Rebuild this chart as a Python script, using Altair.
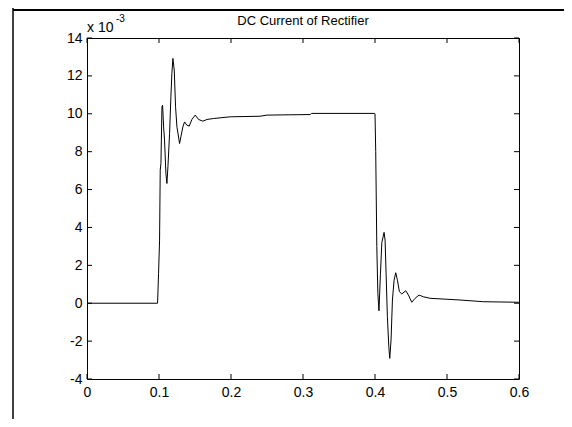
import altair as alt
import pandas as pd

# time (s) and current (x 10^-3 A)
t = [0, 0.0980, 0.0994, 0.1008, 0.1017, 0.1027, 0.1041, 0.1050, 0.1064, 0.1077, 0.1096,
     0.1110, 0.1124, 0.1147, 0.1165, 0.1179, 0.1193, 0.1212, 0.1230, 0.1249, 0.1286,
     0.1304, 0.1332, 0.1355, 0.1387, 0.1420, 0.1457, 0.1503, 0.1549, 0.1610, 0.1665,
     0.1758, 0.1989, 0.2405, 0.2500, 0.3100, 0.3120, 0.3990,
     0.4000, 0.4010, 0.4025, 0.4040, 0.4055, 0.4075, 0.4095, 0.4126, 0.4140, 0.4154,
     0.4172, 0.4192, 0.4205, 0.4223, 0.4242, 0.4265, 0.4288, 0.4311, 0.4339, 0.4372,
     0.4427, 0.4464, 0.4510, 0.4557, 0.4612, 0.4672, 0.4765, 0.4997, 0.5181, 0.5505, 0.6]
i = [0, 0, 1.58, 3.33, 7.03, 7.38, 10.37, 10.45, 9.31, 8.61, 6.85,
     6.32, 7.20, 8.96, 10.89, 12.12, 12.92, 12.30, 10.37, 9.31, 8.43,
     8.78, 9.31, 9.57, 9.40, 9.35, 9.70, 9.93, 9.70, 9.61, 9.70,
     9.75, 9.84, 9.87, 9.93, 9.96, 10.02, 10.02,
     10.0, 8.0, 3.0, 0.5, -0.4, 1.5, 3.2, 3.74, 3.33, 1.58,
     -0.71, -2.29, -2.91, -1.94, 0.17, 1.22, 1.61, 1.22, 0.61, 0.49,
     0.66, 0.43, 0.05, 0.26, 0.43, 0.34, 0.26, 0.21, 0.17, 0.08, 0.05]

x_ticks = [0, 0.1, 0.2, 0.3, 0.4, 0.5, 0.6]
y_ticks = [-4, -2, 0, 2, 4, 6, 8, 10, 12, 14]

title_text = "DC Current of Rectifier"
exp_base = "x 10"
exp_power = "-3"

W, H = 432, 341
PL, PT, PR, PB = 79, 30, 45, 40
FONT = "Liberation Sans"

df = pd.DataFrame({"t": t, "i": i})
xt = pd.DataFrame({"t": x_ticks})
yt = pd.DataFrame({"i": y_ticks})

xscale = alt.Scale(domain=[0, 0.6], nice=False, zero=False)
yscale = alt.Scale(domain=[-4, 14], nice=False, zero=False)

xaxis = alt.Axis(values=x_ticks, title=None, ticks=False, domain=False, grid=False,
                 labelExpr="toString(datum.value)", labelPadding=6,
                 labelOverlap=False, labelFlush=False,
                 labelFont=FONT, labelFontSize=14, labelColor="black")
yaxis = alt.Axis(values=y_ticks, title=None, ticks=False, domain=False, grid=False,
                 labelExpr="toString(datum.value)", labelPadding=5,
                 labelOverlap=False, labelFlush=False,
                 labelFont=FONT, labelFontSize=14, labelColor="black")

X = alt.X("t:Q", scale=xscale, axis=xaxis)
Y = alt.Y("i:Q", scale=yscale, axis=yaxis)

line = alt.Chart(df).mark_line(color="black", strokeWidth=1).encode(x=X, y=Y)

tick_len = 5
top_ticks = alt.Chart(xt).mark_rule(color="black").encode(
    x=X, y=alt.value(0), y2=alt.value(tick_len))
bot_ticks = alt.Chart(xt).mark_rule(color="black").encode(
    x=X, y=alt.value(H - tick_len), y2=alt.value(H))
left_ticks = alt.Chart(yt).mark_rule(color="black").encode(
    y=Y, x=alt.value(0), x2=alt.value(tick_len))
right_ticks = alt.Chart(yt).mark_rule(color="black").encode(
    y=Y, x=alt.value(W - tick_len), x2=alt.value(W))

one = pd.DataFrame({"a": [title_text], "b": [exp_base], "c": [exp_power]})
title = alt.Chart(one).mark_text(font=FONT, fontSize=13, align="center", baseline="alphabetic",
                                 color="black").encode(
    text="a:N", x=alt.value(W / 2), y=alt.value(-13))
base = alt.Chart(one).mark_text(font=FONT, fontSize=14, align="left", baseline="alphabetic",
                                color="black").encode(
    text="b:N", x=alt.value(0), y=alt.value(-6))
power = alt.Chart(one).mark_text(font=FONT, fontSize=10, align="left", baseline="alphabetic",
                                 color="black").encode(
    text="c:N", x=alt.value(29), y=alt.value(-16))

frame_left = alt.Chart(one).mark_rule(color="black", strokeWidth=1.5).encode(
    x=alt.value(-74), y=alt.value(-PT), y2=alt.value(H + PB))
frame_top = alt.Chart(one).mark_rule(color="black", strokeWidth=2).encode(
    x=alt.value(-74), x2=alt.value(W + PR), y=alt.value(-28))

chart = alt.layer(
    line, top_ticks, bot_ticks, left_ticks, right_ticks, title, base, power, frame_left, frame_top
).properties(
    width=W, height=H,
    padding={"left": PL, "top": PT, "right": PR, "bottom": PB},
    autosize=alt.AutoSizeParams(type="none"),
    background="white",
).configure_view(stroke="black", strokeWidth=1).configure_axis(labelOverlap=False)

chart.save("out.html", embed_options={"renderer": "svg", "actions": False})
